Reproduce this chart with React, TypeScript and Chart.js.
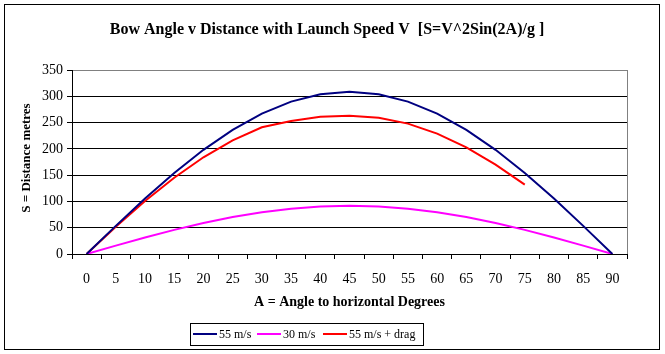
import React, { useEffect, useRef } from "react";
import { Chart, registerables } from "chart.js";

Chart.register(...registerables);

const angles = ["0", "5", "10", "15", "20", "25", "30", "35", "40", "45", "50", "55", "60", "65", "70", "75", "80", "85", "90"];
const speed55 = [0, 53.5, 105.5, 154.2, 198.2, 236.2, 267.1, 289.8, 303.7, 308.4, 303.7, 289.8, 267.1, 236.2, 198.2, 154.2, 105.5, 53.5, 0];
const speed30 = [0, 15.9, 31.4, 45.9, 58.9, 70.3, 79.4, 86.2, 90.3, 91.7, 90.3, 86.2, 79.4, 70.3, 58.9, 45.9, 31.4, 15.9, 0];
const speed55Drag = [0, 52, 101, 145, 184, 216, 241, 253, 261, 263, 259, 248, 229, 203, 170, 132, null, null, null];
const seriesNames = ["55 m/s", "30 m/s", "55 m/s + drag"];
const seriesColors = ["#000080", "#ff00ff", "#ff0000"];
const yTicks = [0, 50, 100, 150, 200, 250, 300, 350];

const chartTitle = "Bow Angle v Distance with Launch Speed V  [S=V^2Sin(2A)/g ]";
const xTitle = "A = Angle to horizontal Degrees";
const yTitle = "S = Distance metres";

const SERIF = "'Liberation Serif', 'Times New Roman', serif";

const decorPlugin = {
  id: "decor",
  afterDraw(chart: any) {
    const ctx = chart.ctx as CanvasRenderingContext2D;
    const area = chart.chartArea;
    ctx.save();
    ctx.strokeStyle = "#000";
    ctx.lineWidth = 1;
    ctx.strokeRect(4.5, 4.5, 655, 345);
    ctx.strokeStyle = "#808080";
    ctx.beginPath();
    ctx.moveTo(Math.round(area.right) + 0.5, area.top);
    ctx.lineTo(Math.round(area.right) + 0.5, area.bottom);
    ctx.stroke();
    ctx.fillStyle = "#000";
    ctx.font = `bold 16px ${SERIF}`;
    ctx.textAlign = "center";
    ctx.textBaseline = "middle";
    ctx.fillText(chartTitle, 327, 30);
    ctx.font = `bold 14px ${SERIF}`;
    ctx.fillText(xTitle, (area.left + area.right) / 2, 302);
    ctx.save();
    ctx.translate(27, 158);
    ctx.rotate(-Math.PI / 2);
    ctx.font = `bold 13px ${SERIF}`;
    ctx.fillText(yTitle, 0, 0);
    ctx.restore();
    ctx.strokeStyle = "#000";
    ctx.strokeRect(190.5, 323.5, 233, 22);
    const starts = [193, 257, 323];
    ctx.font = `12px ${SERIF}`;
    ctx.textAlign = "left";
    seriesNames.forEach((name, i) => {
      ctx.strokeStyle = seriesColors[i];
      ctx.lineWidth = 2;
      ctx.beginPath();
      ctx.moveTo(starts[i], 334);
      ctx.lineTo(starts[i] + 24, 334);
      ctx.stroke();
      ctx.fillStyle = "#000";
      ctx.fillText(name, starts[i] + 26, 335);
    });
    ctx.restore();
  },
};

export default function App() {
  const ref = useRef<HTMLCanvasElement>(null);
  useEffect(() => {
    document.body.style.margin = "0";
    const datasets = [speed55, speed30, speed55Drag].map((d, i) => ({
      label: seriesNames[i],
      data: d,
      borderColor: seriesColors[i],
      backgroundColor: seriesColors[i],
      borderWidth: 2,
      pointRadius: 0,
      tension: 0,
      spanGaps: false,
    }));
    const chart = new Chart(ref.current!, {
      type: "line",
      data: { labels: angles, datasets },
      options: {
        animation: false,
        responsive: false,
        layout: { padding: { top: 70, left: 0, right: 38, bottom: 0 } },
        plugins: { legend: { display: false }, title: { display: false }, tooltip: { enabled: false } },
        scales: {
          x: {
            type: "category",
            offset: true,
            grid: { offset: true, drawOnChartArea: false, drawTicks: true, tickLength: 5, color: "#000" },
            border: { color: "#000", width: 1 },
            ticks: { font: { family: SERIF, size: 14 }, color: "#000", padding: 12, maxRotation: 0, autoSkip: false },
            afterFit: (s: any) => { s.height = 100; },
          },
          y: {
            min: 0,
            max: 350,
            afterBuildTicks: (s: any) => { s.ticks = yTicks.map((v) => ({ value: v })); },
            grid: {
              color: (c: any) => (c.tick && c.tick.value === 350 ? "#808080" : "#000"),
              tickColor: "#000",
              tickLength: 5,
            },
            border: { color: "#000", width: 1 },
            ticks: { font: { family: SERIF, size: 14 }, color: "#000", padding: 4 },
            afterFit: (s: any) => { s.width = 72; },
          },
        },
      },
      plugins: [decorPlugin],
    });
    return () => chart.destroy();
  }, []);
  return <canvas ref={ref} width={665} height={354} style={{ display: "block", width: 665, height: 354 }} />;
}
